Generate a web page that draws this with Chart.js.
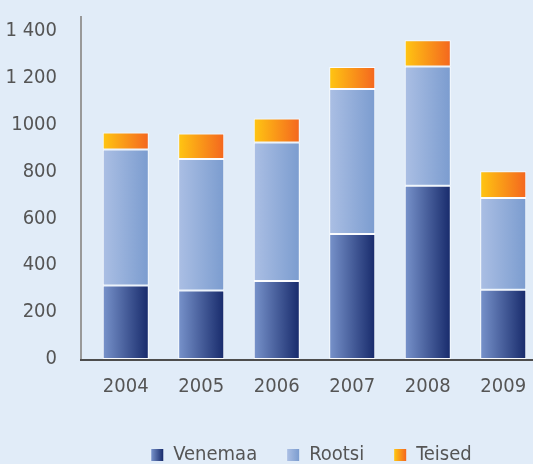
<!DOCTYPE html>
<html>
<head>
<meta charset="utf-8">
<script src="https://cdn.jsdelivr.net/npm/chart.js@4/dist/chart.umd.min.js"></script>
<style>
  html, body { margin: 0; padding: 0; background: #e1ecf8; overflow: hidden; }
  #wrap { width: 533px; height: 464px; overflow: hidden; position: relative; }
  #chart { position: absolute; left: 0; top: -27px; }
</style>
</head>
<body>
<div id="wrap"><canvas id="chart" width="622" height="491"></canvas></div>
<script>
const years = ['2004', '2005', '2006', '2007', '2008', '2009'];
const venemaa = [314, 292, 333, 533, 740, 296];
const rootsi = [580, 562, 591, 619, 508, 391];
const teised = [73, 108, 102, 94, 112, 114];
const yTicks = [0, 200, 400, 600, 800, 1000, 1200, 1400];
const yTickLabels = ['0', '200', '400', '600', '800', '1000', '1 200', '1 400'];

const FONT = "'DejaVu Sans Condensed', sans-serif";
const BAR_FRAC = 0.61;

// left / right colour of each series gradient
const grads = [
    ['#7893cb', '#172a6b'],
    ['#abbfe4', '#7b9ccf'],
    ['#ffc612', '#f4661f']
];

function barFill(i) {
    return function (ctx) {
        const chart = ctx.chart;
        const area = chart.chartArea;
        if (!area || ctx.type !== 'data') return grads[i][1];
        const cx = chart.scales.x.getPixelForValue(ctx.dataIndex);
        const w = (area.right - area.left) / years.length * BAR_FRAC;
        const g = chart.ctx.createLinearGradient(cx - w / 2, 0, cx + w / 2, 0);
        g.addColorStop(0, grads[i][0]);
        g.addColorStop(1, grads[i][1]);
        return g;
    };
}

const extras = {
    id: 'extras',
    afterLayout(chart) {
        // legend sits a bit right of the plot centre
        chart.legend.left += 41;
        chart.legend.right += 41;
    },
    afterDatasetsDraw(chart) {
        const c = chart.ctx;
        const a = chart.chartArea;
        c.save();
        c.lineWidth = 2;
        c.strokeStyle = '#999999';
        c.beginPath();
        c.moveTo(a.left - 7, a.top);
        c.lineTo(a.left - 7, a.bottom + 1);
        c.stroke();
        c.strokeStyle = '#4d4d4d';
        c.beginPath();
        c.moveTo(a.left - 8, a.bottom + 1);
        c.lineTo(a.right, a.bottom + 1);
        c.stroke();
        c.restore();
    },
    afterDraw(chart) {
        const c = chart.ctx;
        c.save();
        chart.legend.legendHitBoxes.forEach((b, i) => {
            const y = b.top + (b.height - 12) / 2;
            const g = c.createLinearGradient(b.left, 0, b.left + 12, 0);
            g.addColorStop(0, grads[i][0]);
            g.addColorStop(1, grads[i][1]);
            c.fillStyle = '#e1ecf8';
            c.fillRect(b.left - 1, y - 1, 14, 14);
            c.fillStyle = g;
            c.fillRect(b.left, y, 12, 12);
        });
        c.restore();
    }
};

const ds = (label, data, i) => ({
    label: label,
    data: data,
    backgroundColor: barFill(i),
    borderColor: 'rgba(255,255,255,0.85)',
    borderWidth: 1,
    borderSkipped: false,
    barPercentage: BAR_FRAC,
    categoryPercentage: 1
});

new Chart(document.getElementById('chart'), {
    type: 'bar',
    data: {
        labels: years,
        datasets: [
            ds('Venemaa', venemaa, 0),
            ds('Rootsi', rootsi, 1),
            ds('Teised', teised, 2)
        ]
    },
    plugins: [extras],
    options: {
        responsive: false,
        animation: false,
        layout: { padding: { top: 16, right: 81, left: 0, bottom: -11 } },
        plugins: {
            tooltip: { enabled: false },
            legend: {
                position: 'bottom',
                labels: {
                    boxWidth: 12,
                    boxHeight: 12,
                    padding: 30,
                    color: '#555555',
                    font: { family: FONT, size: 20 }
                }
            }
        },
        scales: {
            x: {
                stacked: true,
                grid: { display: false, drawTicks: false },
                border: { display: false },
                afterFit: s => { s.height = 56; },
                ticks: { color: '#555555', padding: 16, font: { family: FONT, size: 20 } }
            },
            y: {
                stacked: true,
                min: 0,
                max: 1464,
                grid: { display: false, drawTicks: false },
                border: { display: false },
                afterBuildTicks: s => { s.ticks = yTicks.map(v => ({ value: v })); },
                afterFit: s => { s.width = 88; },
                ticks: {
                    color: '#555555',
                    padding: 31,
                    font: { family: FONT, size: 20 },
                    callback: (v) => yTickLabels[yTicks.indexOf(v)]
                }
            }
        }
    }
});
</script>
</body>
</html>
